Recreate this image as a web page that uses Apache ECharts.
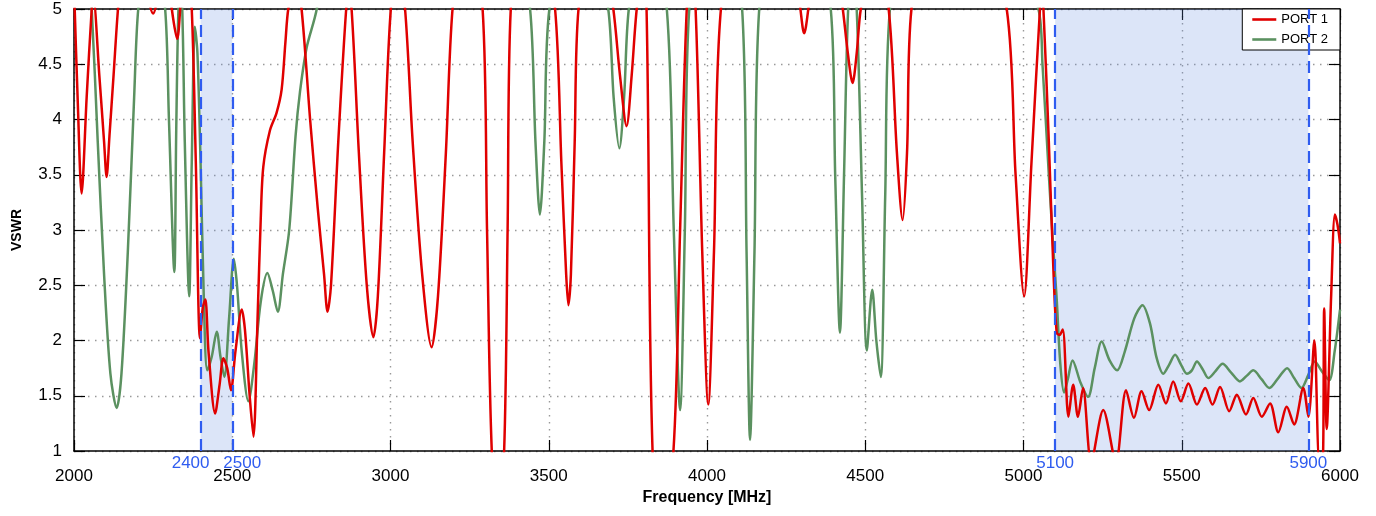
<!DOCTYPE html>
<html>
<head>
<meta charset="utf-8">
<script src="https://cdn.jsdelivr.net/npm/echarts@6/dist/echarts.min.js"></script>
<style>
  html, body { margin: 0; padding: 0; background: #fff; }
  #chart { width: 1376px; height: 516px; }
</style>
</head>
<body>
<div id="chart"></div>
<script>
  // frequency ticks / band edges (MHz)
  const bandEdges = [2400, 2500, 5100, 5900];
  const bands = [[2400, 2500], [5100, 5900]];

  // PORT 1
  const port1Freq = [2000, 2012, 2024, 2040, 2056, 2061, 2080, 2095, 2103, 2112, 2125, 2139, 2170, 2220, 2250, 2275,
    2290, 2309, 2326, 2338, 2355, 2372, 2385, 2398, 2407, 2415, 2425, 2446, 2460, 2472, 2484, 2496, 2510, 2530, 2540,
    2555, 2567, 2580, 2590, 2598, 2619, 2640, 2656, 2668, 2677, 2700, 2719, 2746, 2770, 2790, 2801, 2812, 2835, 2860,
    2867, 2877, 2900, 2925, 2946, 2960, 2980, 3001, 3024, 3046, 3070, 3100, 3130, 3150, 3175, 3196, 3240, 3291, 3305,
    3320, 3340, 3359, 3370, 3380, 3450, 3520, 3540, 3555, 3562, 3570, 3582, 3594, 3650, 3704, 3725, 3746, 3762, 3778,
    3795, 3809, 3828, 3860, 3894, 3915, 3936, 3950, 3964, 3985, 4004, 4022, 4044, 4150, 4290, 4307, 4325, 4380, 4429,
    4445, 4460, 4473, 4486, 4530, 4574, 4600, 4618, 4632, 4646, 4800, 4947, 4975, 5002, 5025, 5052, 5058, 5063, 5080,
    5095, 5105, 5114, 5124, 5142, 5157, 5172, 5188, 5214, 5252, 5292, 5324, 5349, 5373, 5397, 5426, 5450, 5473, 5497,
    5521, 5548, 5574, 5597, 5621, 5650, 5674, 5703, 5726, 5753, 5779, 5805, 5832, 5855, 5884, 5900, 5919, 5935, 5945,
    5950, 5958, 5972, 5984, 5992, 6000];
  const port1Vswr = [5.2, 4.15, 3.33, 4.2, 5.0, 5.1, 4.4, 3.8, 3.48, 3.85, 4.4, 5.0, 6.0, 5.3, 4.96, 5.3,
    5.5, 5.0, 4.73, 5.1, 5.6, 5.0, 3.6, 2.02, 2.3, 2.37, 1.9, 1.34, 1.6, 1.84, 1.75, 1.55, 1.9, 2.28, 2.1,
    1.5, 1.13, 2.2, 3.1, 3.57, 3.9, 4.06, 4.27, 4.7, 5.0, 5.3, 5.0, 4.0, 3.2, 2.6, 2.26, 2.5, 3.8, 5.0,
    5.1, 5.0, 3.7, 2.5, 2.03, 2.4, 3.7, 5.0, 5.4, 5.0, 3.8, 2.6, 1.94, 2.4, 3.7, 5.0, 6.0, 5.0, 3.0,
    1.0, 0.5, 1.0, 3.0, 5.0, 6.5, 5.0, 3.6, 2.6, 2.32, 2.6, 3.8, 5.0, 6.0, 5.0, 4.4, 3.94, 4.4, 5.0,
    5.3, 5.0, 1.0, 0.5, 1.0, 3.0, 5.0, 5.3, 5.0, 2.8, 1.42, 2.8, 5.0, 7.0, 5.1, 4.78, 5.1, 6.0, 5.0,
    4.6, 4.33, 4.6, 5.0, 5.6, 5.0, 3.7, 3.09, 3.7, 5.0, 7.0, 5.0, 3.5, 2.40, 3.6, 5.0, 5.15, 5.0, 3.8,
    2.6, 2.07, 2.05, 2.10, 1.31, 1.60, 1.31, 1.57, 0.9, 1.37, 0.9, 1.55, 1.30, 1.54, 1.37, 1.60, 1.43, 1.63, 1.45,
    1.61, 1.42, 1.57, 1.42, 1.58, 1.36, 1.51, 1.33, 1.48, 1.31, 1.43, 1.17, 1.40, 1.24, 1.57, 1.31, 2.0, 0.9, 0.9,
    2.29, 1.2, 2.4, 3.14, 3.05, 2.88];

  // PORT 2
  const port2Freq = [2000, 2040, 2056, 2075, 2095, 2115, 2135, 2150, 2170, 2190, 2203, 2245, 2288, 2300, 2317, 2323,
    2330, 2336, 2342, 2350, 2364, 2372, 2382, 2390, 2400, 2410, 2421, 2435, 2451, 2463, 2475, 2490, 2505, 2515, 2530,
    2551, 2570, 2590, 2611, 2628, 2644, 2660, 2680, 2700, 2714, 2735, 2767, 2850, 3100, 3350, 3441, 3458, 3472, 3486,
    3502, 3600, 3688, 3705, 3723, 3738, 3753, 3810, 3873, 3895, 3915, 3930, 3944, 4030, 4111, 4125, 4136, 4150, 4165,
    4280, 4391, 4405, 4420, 4433, 4446, 4460, 4473, 4490, 4505, 4522, 4535, 4549, 4563, 4578, 4800, 5047, 5060, 5080,
    5095, 5105, 5116, 5128, 5140, 5155, 5180, 5204, 5225, 5247, 5272, 5296, 5320, 5350, 5376, 5400, 5420, 5442, 5460,
    5479, 5498, 5516, 5532, 5548, 5566, 5584, 5606, 5629, 5656, 5684, 5705, 5726, 5752, 5777, 5805, 5833, 5855, 5878,
    5900, 5920, 5943, 5966, 5983, 6000];
  const port2Vswr = [6.5, 5.6, 5.0, 3.8, 2.6, 1.7, 1.39, 1.7, 2.8, 4.2, 5.0, 6.0, 5.0, 4.0, 2.62, 3.9,
    5.0, 5.1, 5.0, 3.8, 2.40, 3.6, 4.84, 4.6, 3.6, 2.4, 1.73, 1.85, 2.08, 1.85, 1.67, 2.2, 2.74, 2.5, 1.9,
    1.45, 1.8, 2.35, 2.61, 2.45, 2.26, 2.6, 3.0, 3.85, 4.25, 4.65, 5.0, 6.5, 7.0, 7.0, 5.0, 3.8, 3.14, 3.8,
    5.0, 6.5, 5.0, 4.2, 3.74, 4.2, 5.0, 6.0, 5.0, 3.0, 1.37, 3.0, 5.0, 6.5, 5.0, 2.8, 1.10, 2.8, 5.0,
    7.0, 5.0, 3.5, 2.07, 3.5, 5.0, 5.3, 5.0, 3.3, 1.91, 2.46, 2.0, 1.67, 3.3, 5.0, 7.0, 5.0, 4.5, 3.5,
    2.8, 2.37, 1.8, 1.53, 1.65, 1.82, 1.62, 1.49, 1.75, 1.99, 1.82, 1.73, 1.9, 2.2, 2.32, 2.15, 1.85, 1.70, 1.78,
    1.87, 1.78, 1.70, 1.73, 1.81, 1.74, 1.66, 1.72, 1.79, 1.71, 1.63, 1.68, 1.73, 1.65, 1.57, 1.66, 1.75, 1.66, 1.57,
    1.69, 1.81, 1.72, 1.64, 1.9, 2.28];

  const FONT = "'Liberation Sans', Arial, sans-serif";
  const BLUE = '#2f5cf0';

  const zip = (xs, ys) => xs.map((x, i) => [x, ys[i]]);

  const chart = echarts.init(document.getElementById('chart'));

  const frameAxis = {
    axisLine: {show: true, lineStyle: {color: '#000', width: 1.5}},
    axisTick: {show: true, inside: true, length: 11, lineStyle: {color: '#000', width: 1.2}}
  };
  const gridLine = {show: true, lineStyle: {color: '#999', width: 1.4, type: [1.5, 5.5]}};

  const option = {
    animation: false,
    textStyle: {fontFamily: FONT},
    grid: {left: 74, right: 36, top: 9, bottom: 65, outerBoundsMode: 'none'},
    legend: {
      data: ['PORT 1', 'PORT 2'],
      orient: 'vertical',
      right: 36,
      top: 9,
      icon: 'path://M0,0 H24 V2.6 H0 Z',
      backgroundColor: '#fff',
      borderColor: '#000',
      borderWidth: 1,
      borderRadius: 0,
      padding: [4, 12, 4, 10],
      itemWidth: 24,
      itemHeight: 14,
      itemGap: 7,
      textStyle: {fontSize: 13, color: '#000', fontFamily: FONT}
    },
    xAxis: [
      Object.assign({
        type: 'value', min: 2000, max: 6000, interval: 500, position: 'bottom',
        axisLabel: {margin: 17, fontSize: 17, color: '#000', fontFamily: FONT, formatter: v => String(v)},
        splitLine: gridLine,
        name: 'Frequency [MHz]',
        nameLocation: 'middle',
        nameGap: 37,
        nameTextStyle: {fontSize: 16, fontWeight: 'bold', color: '#000', fontFamily: FONT}
      }, frameAxis),
      Object.assign({
        type: 'value', min: 2000, max: 6000, interval: 500, position: 'top',
        axisLabel: {show: false}, splitLine: {show: false}
      }, frameAxis),
      {
        type: 'value', min: 2000, max: 6000, position: 'bottom',
        axisLine: {show: false}, axisTick: {show: false}, splitLine: {show: false},
        axisLabel: {
          customValues: bandEdges,
          margin: 4,
          fontSize: 17,
          color: BLUE,
          fontFamily: FONT,
          formatter: v => v === 2400 ? '{l|2400}' : v === 2500 ? '{r|2500}' : String(v),
          rich: {
            l: {padding: [0, 20, 0, 0], fontSize: 17, color: BLUE, fontFamily: FONT},
            r: {padding: [0, 0, 0, 20], fontSize: 17, color: BLUE, fontFamily: FONT}
          }
        }
      }
    ],
    yAxis: [
      Object.assign({
        type: 'value', min: 1, max: 5, interval: 0.5, position: 'left',
        axisLabel: {margin: 12, fontSize: 17, color: '#000', fontFamily: FONT},
        splitLine: gridLine,
        name: 'VSWR',
        nameLocation: 'middle',
        nameGap: 50,
        nameTextStyle: {fontSize: 14, fontWeight: 'bold', color: '#000', fontFamily: FONT}
      }, frameAxis),
      Object.assign({
        type: 'value', min: 1, max: 5, interval: 0.5, position: 'right',
        axisLabel: {show: false}, splitLine: {show: false}
      }, frameAxis)
    ],
    series: [
      {
        // band shading + edge markers
        type: 'line',
        data: [],
        z: 1,
        silent: true,
        markArea: {
          silent: true,
          itemStyle: {color: 'rgba(100, 140, 225, 0.226)'},
          data: bands.map(b => [{xAxis: b[0]}, {xAxis: b[1]}])
        },
        markLine: {
          silent: true,
          symbol: 'none',
          label: {show: false},
          lineStyle: {color: BLUE, width: 2.2, type: [12, 6]},
          data: bandEdges.map(x => ({xAxis: x}))
        }
      },
      {
        name: 'PORT 1',
        type: 'line',
        data: zip(port1Freq, port1Vswr),
        smooth: 0.3,
        symbol: 'none',
        z: 3,
        color: '#e00000',
        lineStyle: {width: 2.5, color: '#e00000'}
      },
      {
        name: 'PORT 2',
        type: 'line',
        data: zip(port2Freq, port2Vswr),
        smooth: 0.3,
        symbol: 'none',
        z: 2,
        color: '#5b9160',
        lineStyle: {width: 2.5, color: '#5b9160'}
      }
    ]
  };

  chart.setOption(option);
</script>
</body>
</html>
